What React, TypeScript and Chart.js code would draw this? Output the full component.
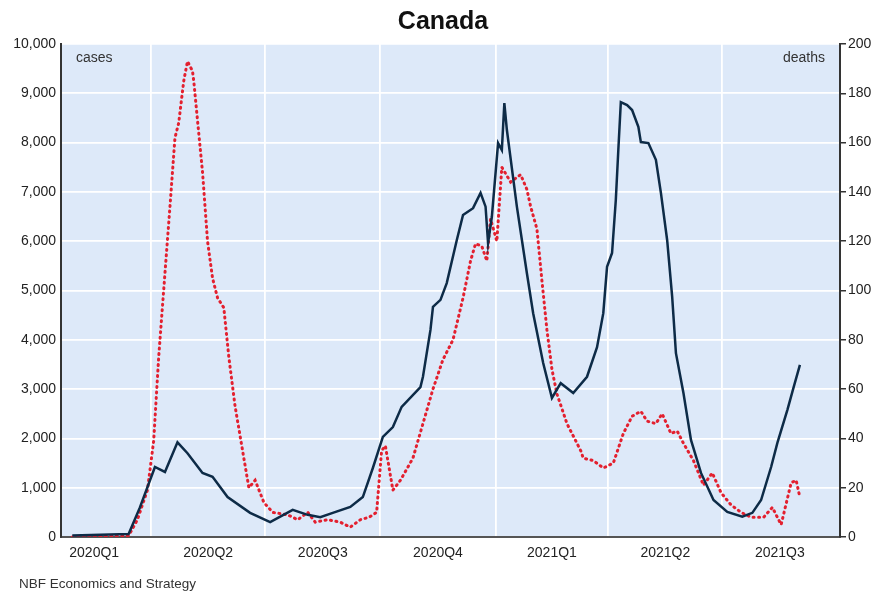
import React, { useEffect, useRef } from "react";
import { Chart, registerables } from "chart.js";

Chart.register(...registerables);

const TITLE = "Canada";
const SOURCE = "NBF Economics and Strategy";
const LEFT_LABEL = "cases";
const RIGHT_LABEL = "deaths";

// x values are days since 2020-01-01
const X_MIN = 19;
const X_MAX = 641;
const QUARTER_LABELS = ["2020Q1", "2020Q2", "2020Q3", "2020Q4", "2021Q1", "2021Q2", "2021Q3"];
const QUARTER_MIDS = [45.5, 136.5, 228, 320, 411, 501.5, 593];
const QUARTER_STARTS = [91, 182, 274, 366, 456, 547];

const CASE_DAYS = [
  28, 73, 82, 94, 102, 112, 120, 132, 140, 152, 170, 186, 204, 216, 226, 236, 250, 260,
  268, 276, 284, 291, 306, 308, 314, 316, 322, 327, 335, 340, 348, 354, 358, 360, 363,
  368, 371, 373, 375, 383, 391, 396, 404, 411, 418, 428, 439, 447, 452, 455, 459, 462,
  464, 466, 471, 475, 480, 482, 488, 494, 498, 503, 507, 510, 516, 522, 530, 540, 551,
  563, 571, 578, 586, 591, 599, 604, 609,
];
const CASES = [
  30, 60, 600, 1420, 1320, 1920, 1700, 1300, 1220, 810, 490, 300, 550, 450, 400, 490, 610, 810,
  1400, 2030, 2230, 2640, 3040, 3250, 4200, 4670, 4810, 5150, 6020, 6530, 6670, 6980, 6700, 5960, 6490,
  7990, 7850, 8800, 8260, 6700, 5350, 4540, 3530, 2820, 3120, 2920, 3250, 3850, 4540, 5480, 5760, 6840,
  7850, 8820, 8760, 8660, 8320, 8010, 7990, 7650, 6980, 6020, 4870, 3730, 2920, 1970, 1300, 750, 510,
  410, 490, 750, 1420, 1910, 2580, 3040, 3490,
];

const DEATH_DAYS = [
  28, 73, 80, 88, 93, 97, 102, 106, 110, 113, 117, 120, 124, 125, 128, 132, 136, 140, 144,
  149, 153, 158, 164, 169, 174, 181, 188, 200, 208, 216, 222, 232, 242, 250, 258, 265, 271,
  275, 278, 284, 290, 300, 308, 316, 324, 332, 340, 346, 350, 355, 359, 362, 367, 371, 378,
  386, 391, 394, 399, 403, 407, 411, 415, 423, 434, 436, 444, 452, 460, 468, 475, 482, 487,
  494, 499, 506, 511, 516, 524, 532, 539, 546, 554, 562, 570, 580, 587, 594, 602, 606, 609,
];
const DEATHS = [
  0, 0.5, 7, 19, 39, 73, 107, 134, 162, 168, 185, 193, 189, 185, 169, 148, 120, 105, 97,
  93, 73, 53, 35, 20, 23, 14, 10, 9, 7, 10, 6, 7, 6, 4, 7, 8, 10,
  35, 37, 19, 23, 32, 46, 60, 72, 80, 97, 112, 119, 118, 112, 129, 120, 150, 144,
  147, 141, 134, 125, 104, 84, 68, 58, 46, 35, 32, 31, 28, 30, 42, 49, 51, 47,
  46, 50, 42, 43, 38, 31, 21, 26, 18, 13, 10, 8, 8, 12, 5, 22, 23, 16,
];

const FONT = "'Liberation Sans', Arial, sans-serif";

const decorPlugin = {
  id: "decor",
  beforeDraw(chart: any) {
    const { ctx, chartArea } = chart;
    ctx.save();
    ctx.fillStyle = "#dde9f9";
    ctx.fillRect(chartArea.left, chartArea.top, chartArea.right - chartArea.left, chartArea.bottom - chartArea.top);
    ctx.restore();
  },
  afterDraw(chart: any) {
    const { ctx, chartArea } = chart;
    ctx.save();
    ctx.fillStyle = "#111";
    ctx.font = `bold 25px ${FONT}`;
    ctx.textAlign = "center";
    ctx.textBaseline = "middle";
    ctx.fillText(TITLE, 443, 22);

    ctx.font = `13.5px ${FONT}`;
    ctx.fillStyle = "#333";
    ctx.textAlign = "left";
    ctx.textBaseline = "alphabetic";
    ctx.fillText(SOURCE, 19, 588);

    ctx.font = `14px ${FONT}`;
    ctx.fillStyle = "#333";
    ctx.textAlign = "left";
    ctx.fillText(LEFT_LABEL, chartArea.left + 15, chartArea.top + 18);
    ctx.textAlign = "right";
    ctx.fillText(RIGHT_LABEL, chartArea.right - 15, chartArea.top + 18);
    ctx.restore();
  },
};

export default function App() {
  const ref = useRef<HTMLCanvasElement | null>(null);

  useEffect(() => {
    if (!ref.current) return;
    const chart = new Chart(ref.current, {
      type: "line",
      data: {
        datasets: [
          {
            label: "deaths",
            data: DEATH_DAYS.map((d, i) => ({ x: d, y: DEATHS[i] })),
            xAxisID: "x",
            yAxisID: "y1",
            borderColor: "#e3202f",
            borderWidth: 3,
            borderDash: [1, 4.5],
            borderCapStyle: "round",
            pointRadius: 0,
            tension: 0,
            order: 2,
          },
          {
            label: "cases",
            data: CASE_DAYS.map((d, i) => ({ x: d, y: CASES[i] })),
            xAxisID: "x",
            yAxisID: "y",
            borderColor: "#0d2b47",
            borderWidth: 2.5,
            pointRadius: 0,
            tension: 0,
            order: 1,
          },
        ],
      },
      options: {
        responsive: false,
        animation: false,
        layout: { padding: { top: 44, left: 0, right: 0, bottom: 0 } },
        plugins: { legend: { display: false }, tooltip: { enabled: false }, title: { display: false } },
        scales: {
          x: {
            type: "linear",
            position: "bottom",
            min: X_MIN,
            max: X_MAX,
            afterBuildTicks: (s: any) => {
              s.ticks = QUARTER_MIDS.map((v) => ({ value: v }));
            },
            ticks: {
              autoSkip: false,
              maxRotation: 0,
              padding: 8,
              color: "#222",
              font: { family: FONT, size: 14 },
              callback: (v: any) => {
                const i = QUARTER_MIDS.indexOf(Number(v));
                return i >= 0 ? QUARTER_LABELS[i] : "";
              },
            },
            grid: { display: false, drawTicks: false },
            border: { display: true, color: "#555", width: 2 },
            afterFit: (s: any) => {
              s.height = 55;
            },
          },
          xg: {
            type: "linear",
            position: "bottom",
            min: X_MIN,
            max: X_MAX,
            afterBuildTicks: (s: any) => {
              s.ticks = QUARTER_STARTS.map((v) => ({ value: v }));
            },
            ticks: { display: false },
            grid: { display: true, color: "#ffffff", lineWidth: 1.8, drawTicks: false },
            border: { display: false },
            afterFit: (s: any) => {
              s.height = 0;
            },
          },
          y: {
            position: "left",
            min: 0,
            max: 10000,
            ticks: {
              stepSize: 1000,
              padding: 5,
              color: "#222",
              font: { family: FONT, size: 14 },
              callback: (v: any) => Number(v).toLocaleString("en-US"),
            },
            grid: { color: "#ffffff", lineWidth: 1.8, drawTicks: false },
            border: { display: true, color: "#333", width: 2 },
            afterFit: (s: any) => {
              s.width = 61;
            },
          },
          y1: {
            position: "right",
            min: 0,
            max: 200,
            ticks: {
              stepSize: 20,
              padding: 2,
              color: "#222",
              font: { family: FONT, size: 14 },
            },
            grid: { drawOnChartArea: false, drawTicks: true, tickLength: 6, color: "#333", lineWidth: 1.5 },
            border: { display: true, color: "#333", width: 2 },
            afterFit: (s: any) => {
              s.width = 38;
            },
          },
        },
      } as any,
      plugins: [decorPlugin],
    });
    return () => chart.destroy();
  }, []);

  return (
    <div style={{ position: "fixed", left: 0, top: 0, width: 878, height: 592, background: "#fff" }}>
      <canvas ref={ref} width={878} height={592} style={{ display: "block", width: 878, height: 592 }} />
    </div>
  );
}
